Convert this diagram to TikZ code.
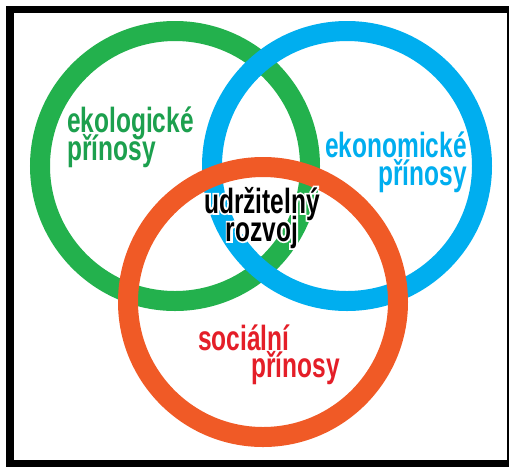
\documentclass[tikz,border=0pt]{standalone}
\usepackage{fontspec}
\setmainfont[FakeStretch=0.7]{Liberation Sans}
\usepackage{tikz}
\usetikzlibrary{calc}
\usepackage{xcolor}
\definecolor{ekogreen}{RGB}{35,177,77}
\definecolor{ekotext}{RGB}{28,160,78}
\definecolor{ekoblue}{RGB}{0,174,239}
\definecolor{soorange}{RGB}{240,90,38}
\definecolor{sored}{RGB}{228,30,40}
% white outline behind the black centre text
\newcommand{\halotext}[1]{\special{pdf:literal 2 Tr 3.5 w 1 1 1 RG}#1\special{pdf:literal 0 Tr}}

\begin{document}
\begin{tikzpicture}[x=1pt,y=-1pt,
  ring/.style={line width=20pt},
  lbl/.style={inner sep=0pt,font=\fontsize{35}{28}\selectfont\bfseries}]
\useasboundingbox (0,0) rectangle (509,467);
\fill[white] (0,0) rectangle (509,467);
\draw[line width=7.5pt] (10,9.5) rectangle (511,463.5);

% the three rings, orange on top
\draw[ring,ekogreen] (175,166) circle[radius=135];
\draw[ring,ekoblue] (347,166) circle[radius=135];
\draw[ring,soorange] (263,302) circle[radius=135];

% labels
\node[lbl,ekotext,anchor=base west] (eko1) at (67,132) {ekologické};
\node[lbl,ekotext,anchor=base west] (eko2) at (67,160) {přínosy};
\node[lbl,ekoblue,anchor=base east] (ekn1) at (467,157) {ekonomické};
\node[lbl,ekoblue,anchor=base east] (ekn2) at (467,185) {přínosy};
\node[lbl,sored,anchor=base west] (soc1) at (198,350) {sociální};
\node[lbl,sored,anchor=base west] (soc2) at (251,377) {přínosy};

% centre text
\coordinate (udr) at (262,213);
\node[lbl,white,anchor=base] (halo1) at (udr) {\halotext{udržitelný}};
\node[lbl,white,anchor=base] (halo2) at ($(udr)+(0,28)$) {\halotext{rozvoj}};
\node[lbl,anchor=base] (udr1) at (udr) {udržitelný};
\node[lbl,anchor=base] (udr2) at ($(udr)+(0,28)$) {rozvoj};
\end{tikzpicture}
\end{document}
